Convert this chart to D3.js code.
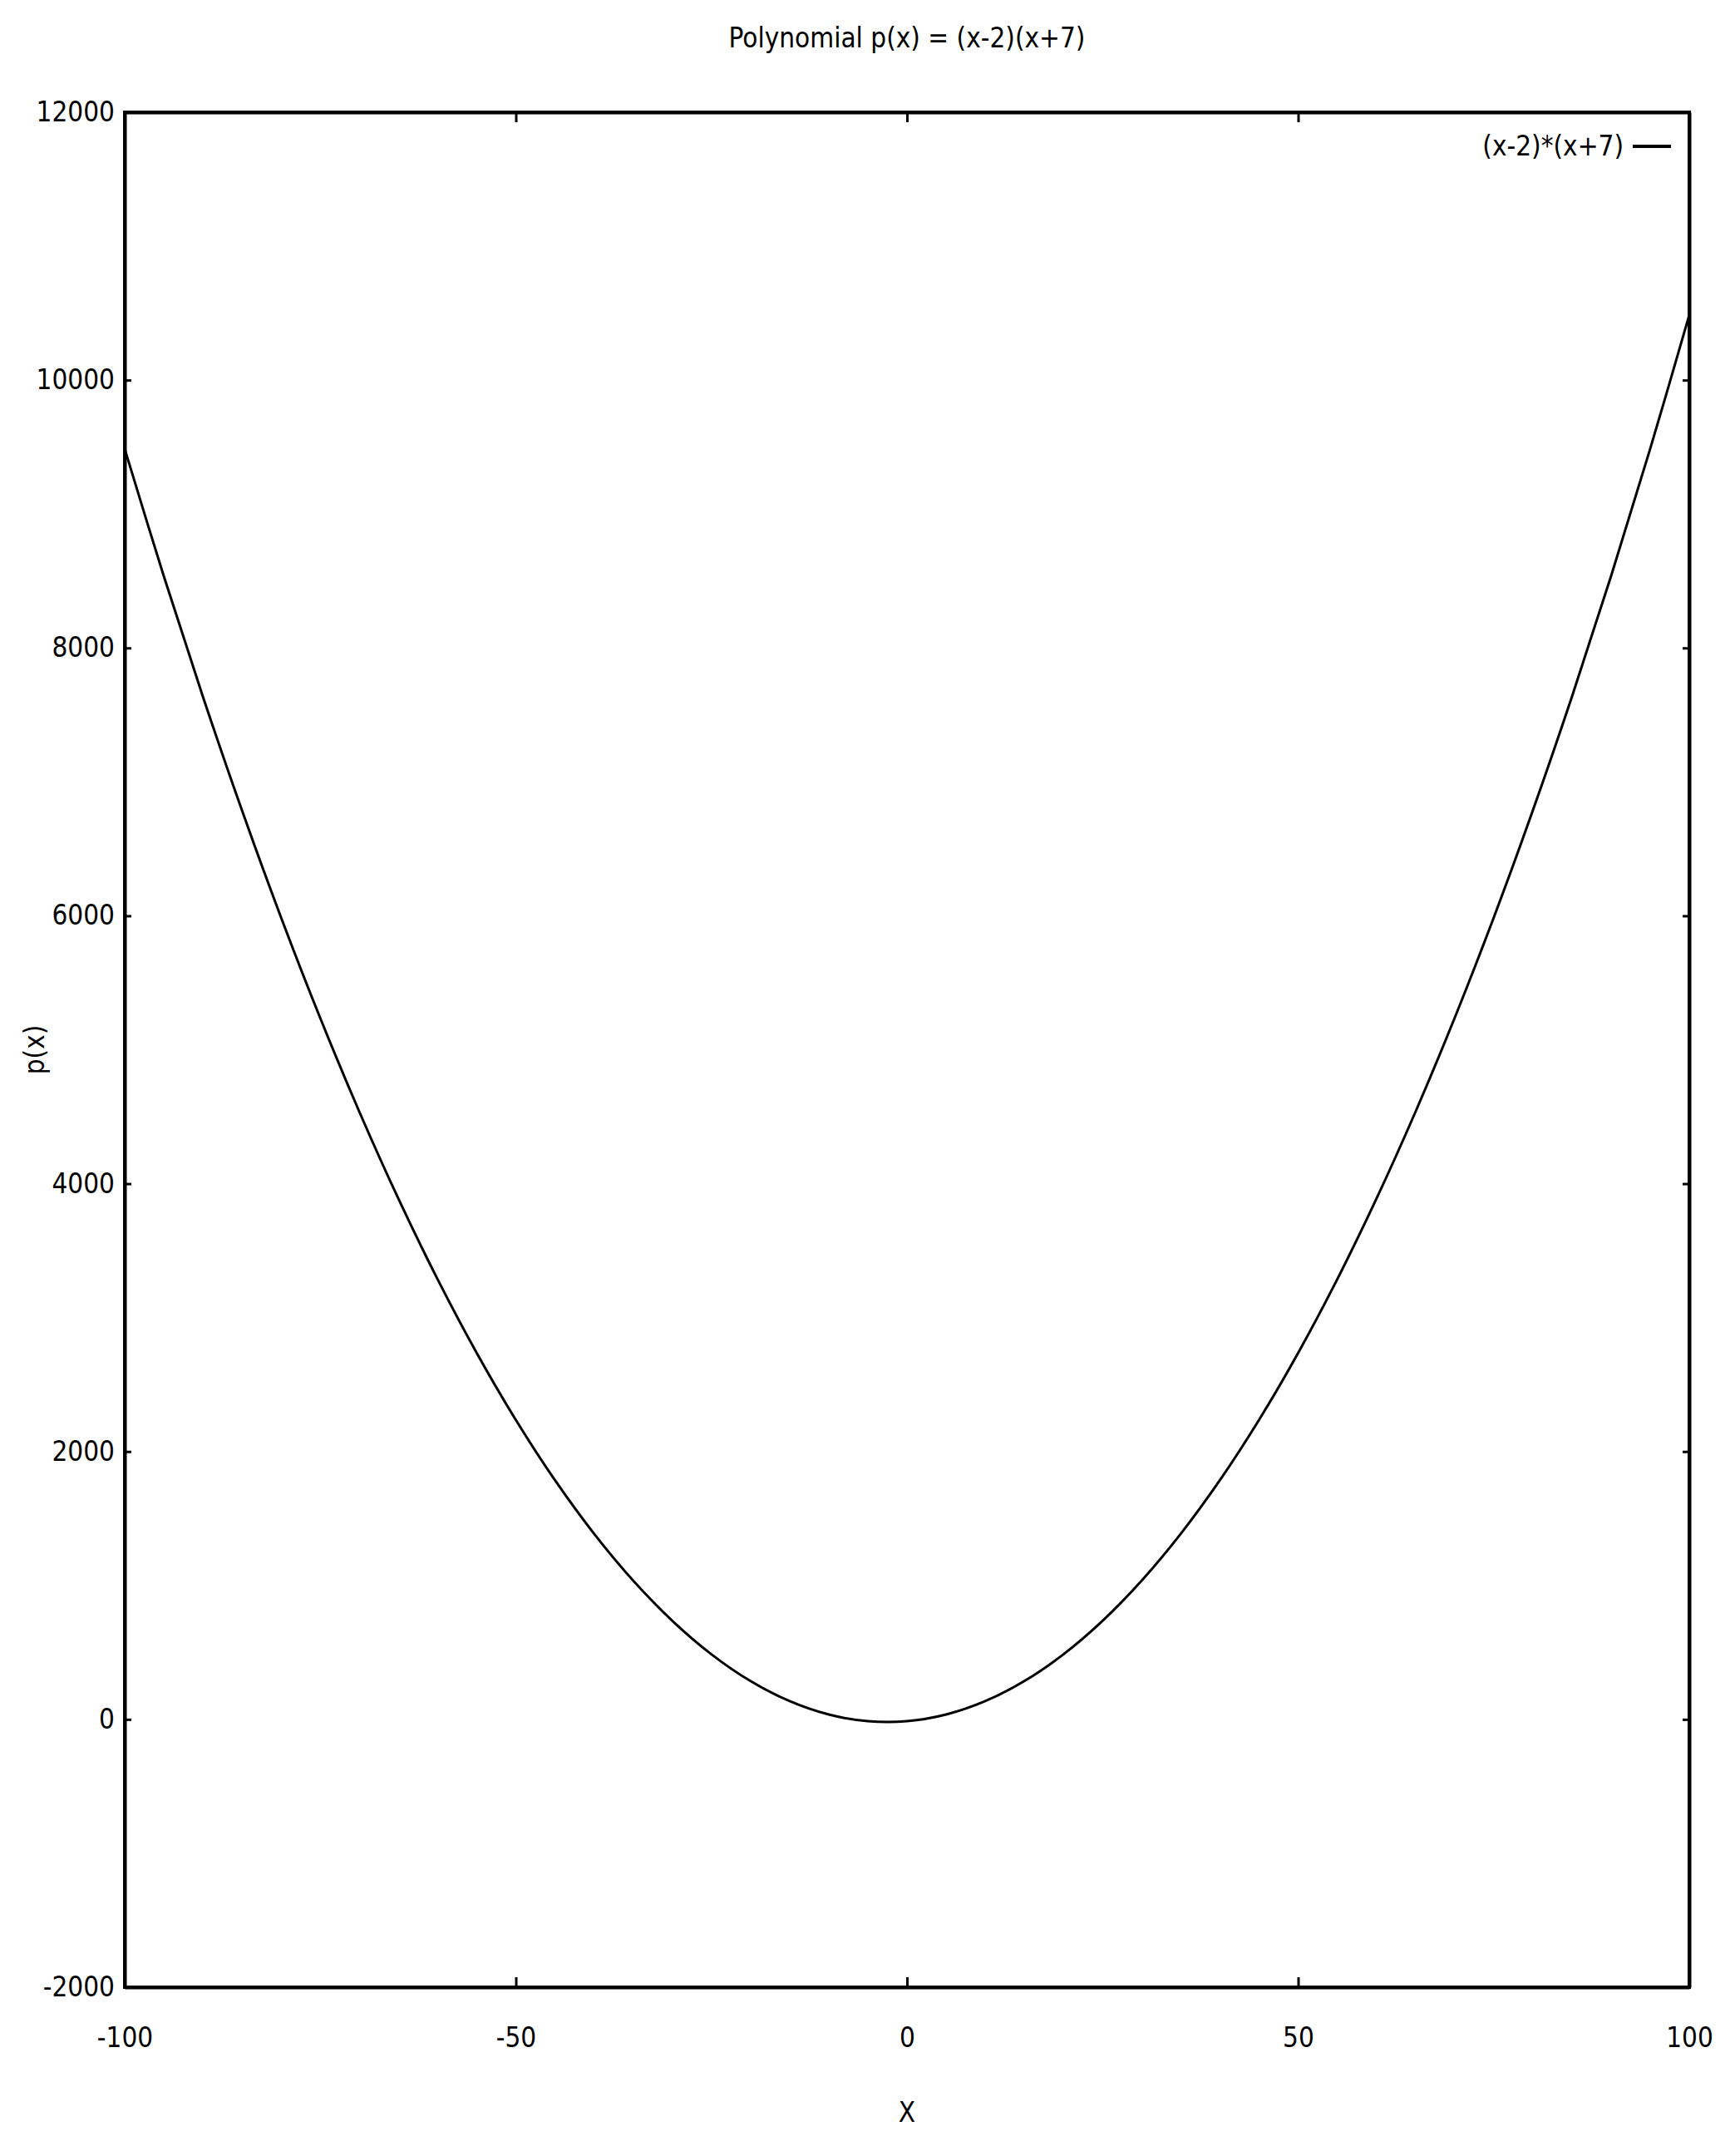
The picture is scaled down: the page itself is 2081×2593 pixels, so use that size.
<!DOCTYPE html>
<html>
<head>
<meta charset="utf-8">
<script src="https://d3js.org/d3.v7.min.js"></script>
<style>
    body { margin: 0; background: #fff; }
    text { font-family: "DejaVu Sans Condensed", "DejaVu Sans", sans-serif; fill: #000; }
</style>
</head>
<body>
<script>
// polynomial chart, values

//x positions of the samples
var xValues = [-100, -95, -90, -85, -80, -75, -70, -65, -60, -55, -50,
    -45, -40, -35, -30, -25, -20, -15, -10, -5, 0,
    5, 10, 15, 20, 25, 30, 35, 40, 45, 50,
    55, 60, 65, 70, 75, 80, 85, 90, 95, 100];

//p(x) read at each sample
var pValues = [9486, 8536, 7636, 6786, 5986, 5236, 4536, 3886, 3286, 2736, 2236,
    1786, 1386, 1036, 736, 486, 286, 136, 36, -14, -14,
    36, 136, 286, 486, 736, 1036, 1386, 1786, 2236, 2736,
    3286, 3886, 4536, 5236, 5986, 6786, 7636, 8536, 9486, 10486];

var xTicks = [-100, -50, 0, 50, 100];
var yTicks = [-2000, 0, 2000, 4000, 6000, 8000, 10000, 12000];

var chartTitle = "Polynomial p(x) = (x-2)(x+7)",
    xTitle = "X",
    yTitle = "p(x)",
    seriesName = "(x-2)*(x+7)";

setChart();

function setChart(){
    var width = 2081,
        height = 2593;

    //plot frame edges
    var left = 150, right = 2032,
        top = 135, bottom = 2390;

    var fontSize = "33px";

    var svg = d3.select("body")
        .append("svg")
        .attr("width", width)
        .attr("height", height);

    var x = d3.scaleLinear()
        .domain([-100, 100])
        .range([left, right]);

    var y = d3.scaleLinear()
        .domain([-2000, 12000])
        .range([bottom, top]);

    //plain labels, no commas, ascii minus
    var plain = function(d){ return String(d); };

    //title
    svg.append("text")
        .attr("x", (left + right) / 2)
        .attr("y", 57)
        .attr("text-anchor", "middle")
        .style("font-size", fontSize)
        .text(chartTitle);

    //bottom axis with labels, ticks point inward
    var xAxis = svg.append("g")
        .attr("transform", "translate(0," + bottom + ")")
        .call(d3.axisBottom(x).tickValues(xTicks).tickFormat(plain).tickSize(-12).tickSizeOuter(0).tickPadding(49));

    //top axis, ticks only
    var xAxisTop = svg.append("g")
        .attr("transform", "translate(0," + top + ")")
        .call(d3.axisTop(x).tickValues(xTicks).tickSize(-12).tickSizeOuter(0).tickFormat(""));

    //left axis with labels
    var yAxis = svg.append("g")
        .attr("transform", "translate(" + left + ",0)")
        .call(d3.axisLeft(y).tickValues(yTicks).tickFormat(plain).tickSize(-8).tickSizeOuter(0).tickPadding(12));

    //right axis, ticks only
    var yAxisRight = svg.append("g")
        .attr("transform", "translate(" + right + ",0)")
        .call(d3.axisRight(y).tickValues(yTicks).tickSize(-8).tickSizeOuter(0).tickFormat(""));

    svg.selectAll(".domain")
        .attr("stroke", "#000")
        .attr("stroke-width", 4);
    svg.selectAll(".tick line")
        .attr("stroke", "#000")
        .attr("stroke-width", 3);
    svg.selectAll(".tick text")
        .style("font-size", fontSize)
        .attr("fill", "#000");

    //close the frame corners
    svg.append("rect")
        .attr("x", left)
        .attr("y", top)
        .attr("width", right - left)
        .attr("height", bottom - top)
        .attr("fill", "none")
        .attr("stroke", "#000")
        .attr("stroke-width", 4);

    //axis titles
    svg.append("text")
        .attr("x", (left + right) / 2)
        .attr("y", 2552)
        .attr("text-anchor", "middle")
        .style("font-size", fontSize)
        .text(xTitle);

    svg.append("text")
        .attr("transform", "translate(53," + ((top + bottom) / 2) + ") rotate(-90)")
        .attr("text-anchor", "middle")
        .style("font-size", fontSize)
        .text(yTitle);

    //the curve
    var points = xValues.map(function(d, i){
        return {x: d, p: pValues[i]};
    });

    var line = d3.line()
        .x(function(d){ return x(d.x); })
        .y(function(d){ return y(d.p); })
        .curve(d3.curveCatmullRom);

    svg.append("path")
        .datum(points)
        .attr("fill", "none")
        .attr("stroke", "#000")
        .attr("stroke-width", 3)
        .attr("d", line);

    //legend in top right corner
    var legend = svg.append("g");

    legend.append("text")
        .attr("x", 1953)
        .attr("y", 187)
        .attr("text-anchor", "end")
        .style("font-size", fontSize)
        .text(seriesName);

    legend.append("line")
        .attr("x1", 1964)
        .attr("x2", 2010)
        .attr("y1", 176)
        .attr("y2", 176)
        .attr("stroke", "#000")
        .attr("stroke-width", 4);
}
</script>
</body>
</html>
